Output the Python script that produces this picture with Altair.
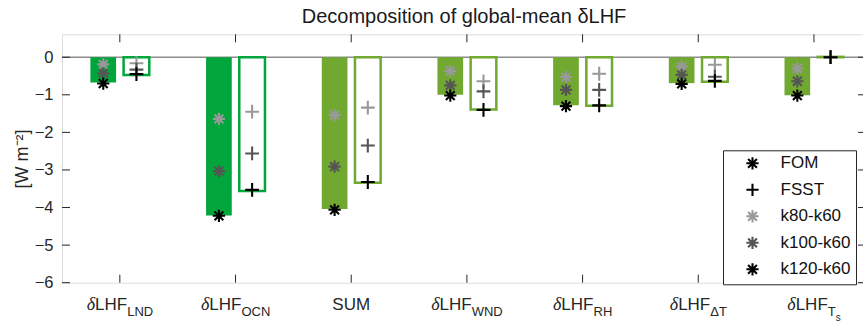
import altair as alt
import pandas as pd

# ---------------- data ----------------
categories = ["LND", "OCN", "SUM", "WND", "RH", "DT", "Ts"]
label_prefix = ["δ", "δ", "", "δ", "δ", "δ", "δ"]
label_main = ["LHF", "LHF", "SUM", "LHF", "LHF", "LHF", "LHF"]
label_sub = ["LND", "OCN", "", "WND", "RH", "ΔT", "T"]
label_subsub = ["", "", "", "", "", "", "s"]

fom_total = [-0.67, -4.21, -4.04, -1.00, -1.28, -0.69, -1.01]
fsst_total = [-0.47, -3.56, -3.34, -1.39, -1.29, -0.65, 0.01]

fom_k80 = [-0.19, -1.64, -1.54, -0.37, -0.53, -0.25, -0.30]
fom_k100 = [-0.43, -3.03, -2.91, -0.75, -0.87, -0.47, -0.64]
fom_k120 = [-0.70, -4.22, -4.06, -1.02, -1.30, -0.71, -1.02]

fsst_k80 = [-0.16, -1.45, -1.34, -0.64, -0.44, -0.20, 0.0]
fsst_k100 = [-0.33, -2.56, -2.35, -0.91, -0.87, -0.52, 0.0]
fsst_k120 = [-0.45, -3.53, -3.32, -1.40, -1.28, -0.63, 0.0]

legend_entries = ["FOM", "FSST", "k80-k60", "k100-k60", "k120-k60"]
y_ticks = [-6, -5, -4, -3, -2, -1, 0]

# ---------------- style ----------------
W, H = 804, 248.4
FONT = "Liberation Sans"
SERIF = "Liberation Serif"
AX = "#262626"
GREEN_A = "#00A53B"
GREEN_B = "#70A830"
cat_colors = [GREEN_A, GREEN_A, GREEN_B, GREEN_B, GREEN_B, GREEN_B, GREEN_B]
k_colors = {"k80": "#999999", "k100": "#555555", "k120": "#000000"}
OFF = 0.1435
HALF = 0.111

AST = "M-1,0L1,0M0,-1L0,1M-0.72,-0.72L0.72,0.72M-0.72,0.72L0.72,-0.72"
PLUS = "M-1,0L1,0M0,-1L0,1"

xscale = alt.Scale(domain=[0.5, 7.45], nice=False, zero=False)
yscale = alt.Scale(domain=[-6, 0.61], nice=False, zero=False)
yaxis = alt.Axis(values=y_ticks, tickSize=0, domain=False, grid=False,
                 labelFont=FONT, labelFontSize=16.5, labelColor=AX, labelPadding=9,
                 title="[W m⁻²]", titleFont=FONT, titleFontSize=18,
                 titleFontWeight="normal", titleColor=AX, titlePadding=3)


def X(field):
    return alt.X(field, type="quantitative", scale=xscale, axis=None)


def Y(field):
    return alt.Y(field, type="quantitative", scale=yscale, axis=yaxis)


pos = list(range(1, len(categories) + 1))
bars = pd.DataFrame({
    "cat": categories * 2,
    "pos": pos * 2,
    "exp": ["FOM"] * 7 + ["FSST"] * 7,
    "val": fom_total + fsst_total,
})
bars["zero"] = 0.0

pts_rows = []
for exp, series in (("FOM", (fom_k80, fom_k100, fom_k120)),
                    ("FSST", (fsst_k80, fsst_k100, fsst_k120))):
    for k, vals in zip(("k80", "k100", "k120"), series):
        for c, p, v in zip(categories, pos, vals):
            pts_rows.append({"cat": c, "pos": p, "exp": exp, "k": k, "val": v})
pts = pd.DataFrame(pts_rows)

labels = pd.DataFrame({"cat": categories, "pos": pos, "pre": label_prefix,
                       "main": label_main, "sub": label_sub, "subsub": label_subsub})
ticks_df = pd.DataFrame({"t": y_ticks})
cat_df = pd.DataFrame({"pos": pos})
leg_df = pd.DataFrame({"entry": legend_entries})

catfill = alt.Scale(domain=categories, range=cat_colors)

layers = []

# zero baseline
layers.append(
    alt.Chart(ticks_df).transform_filter(alt.datum.t == 0).mark_rule(
        color="#8c8c8c", strokeWidth=1.5).encode(
        y=Y("t"), x=alt.value(0), x2=alt.value(W))
)

# FOM filled bars
layers.append(
    alt.Chart(bars).transform_filter(alt.datum.exp == "FOM").transform_calculate(
        x0=f"datum.pos - {OFF} - {HALF}", x1=f"datum.pos - {OFF} + {HALF}"
    ).mark_rect(strokeWidth=0).encode(
        x=X("x0:Q"), x2="x1:Q", y=Y("zero"), y2="val:Q",
        fill=alt.Fill("cat:N", scale=catfill, legend=None))
)

# FSST outlined bars
layers.append(
    alt.Chart(bars).transform_filter(alt.datum.exp == "FSST").transform_calculate(
        x0=f"datum.pos + {OFF} - {HALF}", x1=f"datum.pos + {OFF} + {HALF}"
    ).mark_rect(fill="white", strokeWidth=2.5).encode(
        x=X("x0:Q"), x2="x1:Q", y=Y("zero"), y2="val:Q",
        stroke=alt.Stroke("cat:N", scale=catfill, legend=None))
)

# markers
for exp, shape, size, sign in (("FOM", AST, 150, -1), ("FSST", PLUS, 190, 1)):
    for k in ("k80", "k100", "k120"):
        layers.append(
            alt.Chart(pts).transform_filter(
                (alt.datum.exp == exp) & (alt.datum.k == k)
            ).transform_calculate(xm=f"datum.pos + {sign * OFF}").mark_point(
                shape=shape, filled=False, size=size, strokeWidth=2.1,
                stroke=k_colors[k], opacity=1).encode(
                x=X("xm:Q"), y=Y("val"))
        )

# inward ticks (left, right, top, bottom)
layers.append(alt.Chart(ticks_df).mark_rule(color=AX, strokeWidth=1).encode(
    y=Y("t"), x=alt.value(0), x2=alt.value(8)))
layers.append(alt.Chart(ticks_df).mark_rule(color=AX, strokeWidth=1).encode(
    y=Y("t"), x=alt.value(W - 8), x2=alt.value(W)))
layers.append(alt.Chart(cat_df).mark_rule(color=AX, strokeWidth=1).encode(
    x=X("pos"), y=alt.value(0), y2=alt.value(8)))
layers.append(alt.Chart(cat_df).mark_rule(color=AX, strokeWidth=1).encode(
    x=X("pos"), y=alt.value(H - 8), y2=alt.value(H)))

# x tick labels with subscripts
CW = {"δ": 0.5, "L": 0.556, "H": 0.722, "F": 0.611, "N": 0.722, "D": 0.722,
      "O": 0.778, "C": 0.722, "W": 0.944, "R": 0.722, "Δ": 0.668, "T": 0.611,
      "s": 0.5, "S": 0.667, "U": 0.722, "M": 0.833}


def tw(s, fs):
    return sum(CW.get(ch, 0.6) for ch in s) * fs


FS_B, FS_S, FS_SS = 17, 13, 10
for c, p, m, s, ss in zip(categories, label_prefix, label_main, label_sub, label_subsub):
    B = tw(p, FS_B) + tw(m, FS_B)
    S = tw(s, FS_S) + tw(ss, FS_SS)
    dx = (B - S) / 2
    base = alt.Chart(labels).transform_filter(alt.datum.cat == c)
    layers.append(base.mark_text(align="right", baseline="alphabetic", dx=dx,
                                 font=FONT, fontSize=FS_B, color=AX).encode(
        x=X("pos"), y=alt.value(H + 27), text="main:N"))
    if p:
        layers.append(base.mark_text(align="right", baseline="alphabetic",
                                     dx=dx - tw(m, FS_B), font=SERIF,
                                     fontStyle="italic", fontSize=FS_B + 1,
                                     color=AX).encode(
            x=X("pos"), y=alt.value(H + 27), text="pre:N"))
    if s:
        layers.append(base.mark_text(align="left", baseline="alphabetic", dx=dx,
                                     font=FONT, fontSize=FS_S, color=AX).encode(
            x=X("pos"), y=alt.value(H + 33), text="sub:N"))
    if ss:
        layers.append(base.mark_text(align="left", baseline="alphabetic",
                                     dx=dx + tw(s, FS_S), font=FONT, fontSize=FS_SS,
                                     color=AX).encode(
            x=X("pos"), y=alt.value(H + 38), text="subsub:N"))

# legend carrier (invisible marks)
leg = alt.Legend(title=None, orient="none", legendX=661, legendY=116,
                 direction="vertical", strokeColor=AX, fillColor="white",
                 padding=4.5, symbolOffset=16.5, labelOffset=19.6,
                 labelFont=FONT, labelFontSize=17, labelColor="#111111",
                 rowPadding=5.5, symbolStrokeWidth=2.1, symbolOpacity=1,
                 symbolSize=150, symbolFillColor="transparent")
layers.append(
    alt.Chart(leg_df).mark_point(filled=False, opacity=0).encode(
        x=alt.value(W / 2), y=alt.value(H / 2),
        color=alt.Color("entry:N", scale=alt.Scale(
            domain=legend_entries,
            range=["#000000", "#000000", "#999999", "#555555", "#000000"]), legend=leg),
        shape=alt.Shape("entry:N", scale=alt.Scale(
            domain=legend_entries, range=[AST, PLUS, AST, AST, AST]), legend=leg))
)

chart = alt.layer(*layers).properties(
    width=W, height=H,
    title=alt.TitleParams("Decomposition of global-mean δLHF", font=FONT,
                          fontSize=20, fontWeight="normal", color="#1a1a1a",
                          anchor="middle", frame="group", offset=7),
    padding={"left": 62, "top": 34.3, "right": -3, "bottom": 39.3},
    autosize=alt.AutoSizeParams(type="none"),
).configure_view(stroke=AX, strokeWidth=1).configure(background="white")

chart.save("out.html", embed_options={"renderer": "svg", "actions": False})
